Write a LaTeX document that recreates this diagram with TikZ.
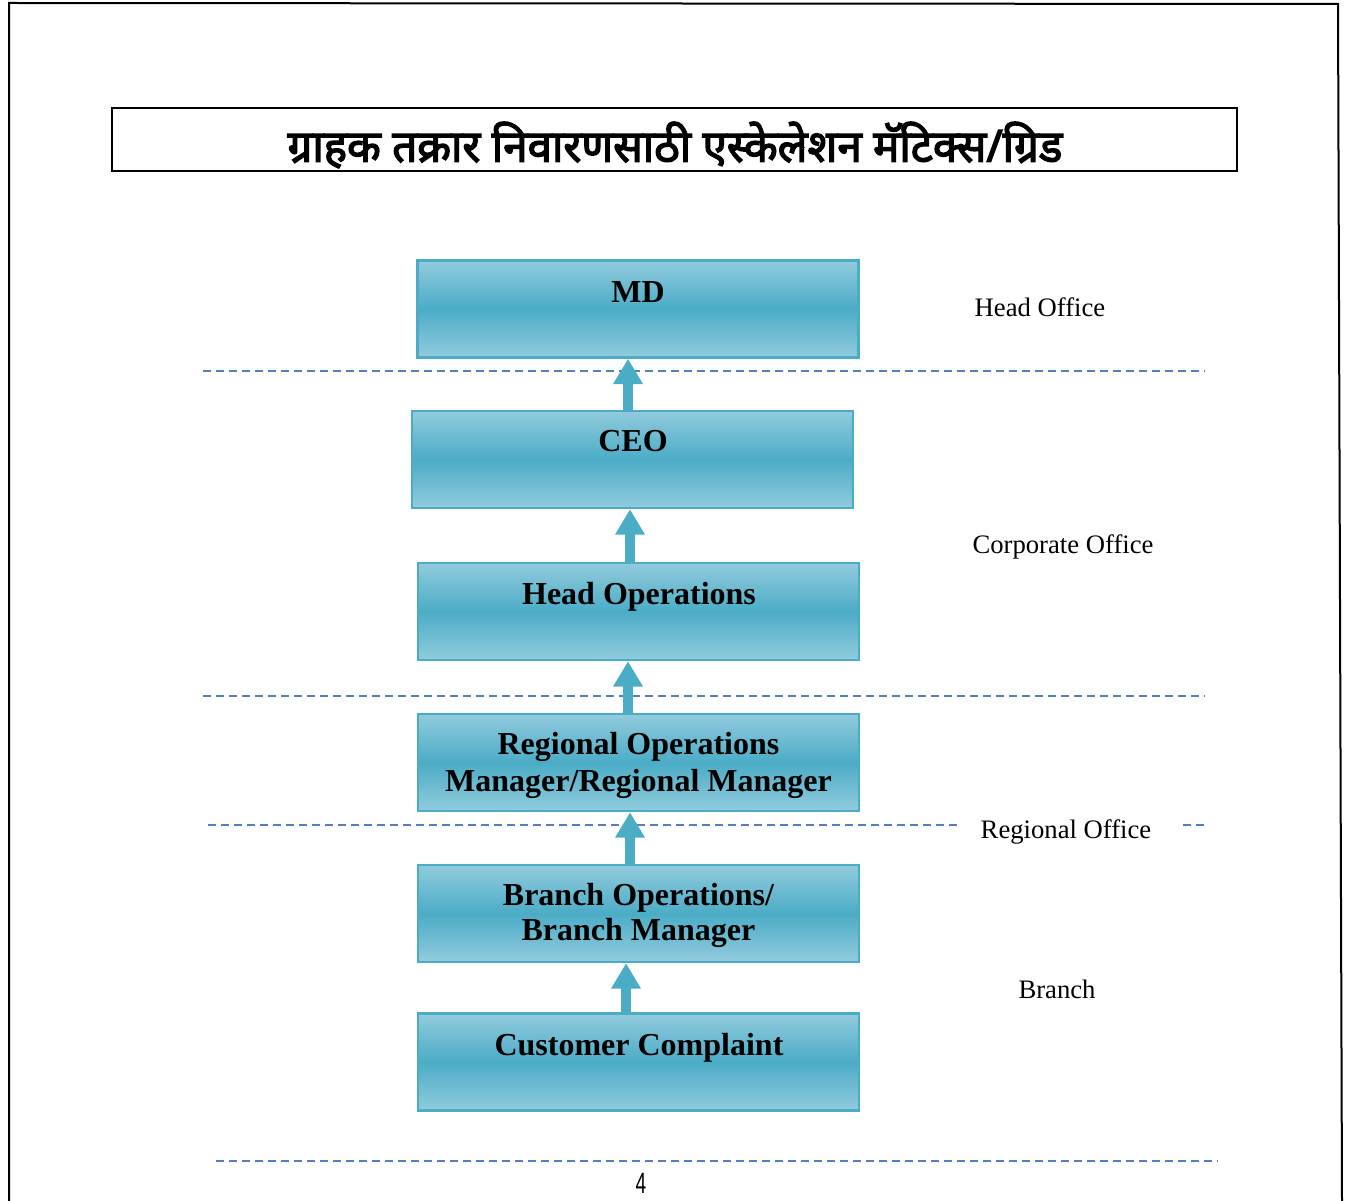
\documentclass[tikz,border=0pt]{standalone}
\usepackage{fontspec}
\setmainfont{Liberation Serif}
\newfontfamily\deva[Script=Devanagari,FakeBold=3]{Noto Sans}
\newfontfamily\pagefont{Liberation Sans}
\usetikzlibrary{arrows.meta,calc}
\definecolor{boxlight}{RGB}{146,203,221}
\definecolor{boxdark}{RGB}{75,172,198}
\definecolor{boxedge}{RGB}{75,172,198}
\definecolor{dashblue}{RGB}{79,129,189}
\tikzset{
  level/.style={rectangle, draw=boxedge, line width=1.8pt, minimum width=330.75pt, minimum height=72.75pt,
    top color=boxlight, bottom color=boxlight, middle color=boxdark, shading=axis, inner sep=0pt},
  boxtext/.style={font=\fontsize{24}{27.75}\selectfont\bfseries, align=center, inner sep=0pt},
  sidetext/.style={font=\fontsize{20}{24}\selectfont, inner sep=0pt},
  uparrow/.style={draw=boxdark, line width=7.5pt, -{Triangle[width=21pt,length=19pt]}},
  levelline/.style={draw=dashblue, line width=1.2pt, dash pattern=on 6pt off 3.75pt},
  pageline/.style={draw=black, line width=1.5pt}
}
\begin{document}
\begin{tikzpicture}[x=0.75pt,y=-0.75pt]
\useasboundingbox (0,0) rectangle (1354,1201);
% page border
\coordinate (p1) at (8,3);
\coordinate (p2) at (1338,4);
\coordinate (p3) at (9,1201);
\coordinate (p4) at (1342,1201);
\draw[pageline] (p3) -- (9,3) -- (p2) -- (p4);
% title
\node[draw=black, line width=1.5pt, minimum width=843.75pt, minimum height=47.25pt, inner sep=0pt] (titlebox) at (674.5,139.5) {};
\node[inner sep=0pt] (title) at (675,145) {\resizebox{581pt}{30pt}{\deva ग्राहक तक्रार निवारणसाठी एस्केलेशन मॅटिक्स/ग्रिड}};
% dashed level lines
\draw[levelline] (203,371) -- (1205,371);
\draw[levelline] (203,696) -- (1205,696);
\draw[levelline] (208,825) -- (958,825);
\draw[levelline] (1183,825) -- (1208,825);
\draw[levelline, line width=1.8pt] (216,1161) -- (1218,1161);
% boxes
\node[level] (md) at (638,309) {};
\node[level] (ceo) at (632.5,459.5) {};
\node[level] (ho) at (638.5,611.5) {};
\node[level] (rom) at (638.5,762.5) {};
\node[level] (bm) at (638.5,913.5) {};
\node[level] (cc) at (638.5,1062) {};
% box texts
\node[boxtext, anchor=base] (mdt) at (638,302.5) {MD};
\node[boxtext, anchor=base] (ceot) at (633,451.5) {CEO};
\node[boxtext, anchor=base] (hot) at (639,604.5) {Head Operations};
\node[boxtext] (romt) at (638.5,765) {Regional Operations\\Manager/Regional Manager};
\node[boxtext, font=\fontsize{24}{26.25}\selectfont\bfseries] (bmt) at (638.5,915) {Branch Operations/\\Branch Manager};
\node[boxtext, anchor=base] (cct) at (639,1055.5) {Customer Complaint};
% arrows
\draw[uparrow] ($(ceo.north)+(-4.5,0)$) -- ($(md.south)+(-10,0)$);
\draw[uparrow] ($(ho.north)+(-8.5,0)$) -- ($(ceo.south)+(-2.5,0)$);
\draw[uparrow] ($(rom.north)+(-10.5,0)$) -- ($(ho.south)+(-10.5,0)$);
\draw[uparrow] ($(bm.north)+(-8.5,0)$) -- ($(rom.south)+(-8.5,0)$);
\draw[uparrow] ($(cc.north)+(-12.5,0)$) -- ($(bm.south)+(-12.5,0)$);
% side labels
\node[sidetext] (hoff) at (1040,307) {Head Office};
\node[sidetext] (coff) at (1063,547) {Corporate Office};
\node[sidetext] (roff) at (1066,832) {Regional Office};
\node[sidetext] (br) at (1057,989) {Branch};
% page number
\node[inner sep=0pt, font=\pagefont\fontsize{22}{24}\selectfont] (pgno) at (641,1183) {\scalebox{0.65}[1]{4}};
\end{tikzpicture}
\end{document}
